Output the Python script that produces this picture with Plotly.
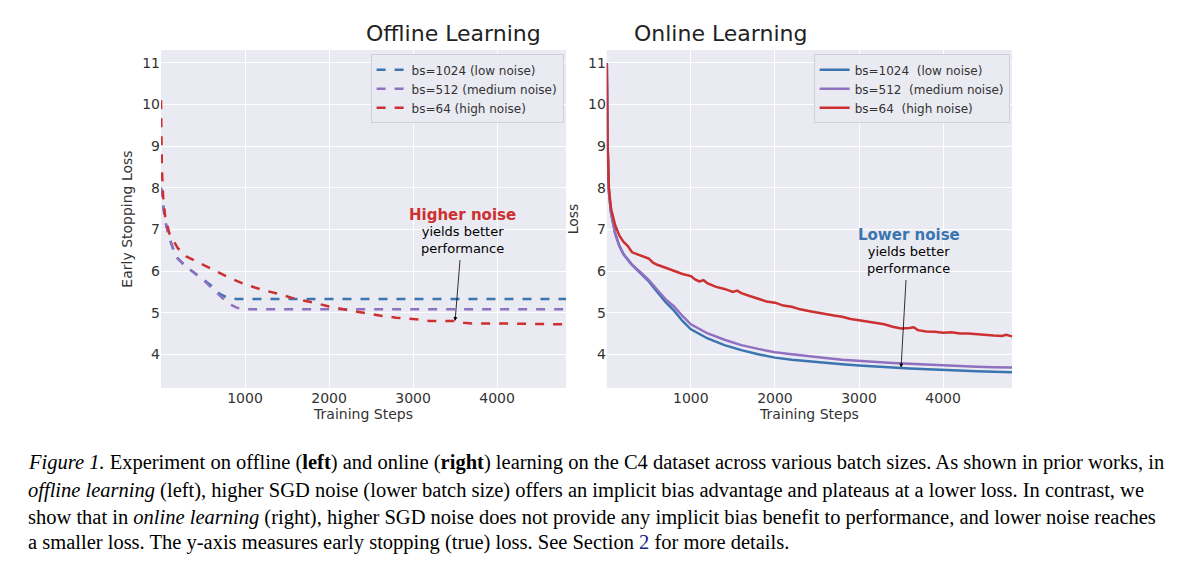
import plotly.graph_objects as go

# offline learning (dashed)
off_x_blue = [0, 25, 50, 100, 150, 200, 300, 400, 500, 600, 700, 800, 900, 1000, 2000, 3000, 4000, 4820]
off_blue = [8.0, 7.6, 7.2, 6.8, 6.5, 6.3, 6.1, 5.95, 5.8, 5.65, 5.45, 5.35, 5.33, 5.33, 5.33, 5.33, 5.33, 5.33]
off_x_purple = [0, 25, 50, 100, 150, 200, 300, 400, 500, 600, 700, 800, 900, 1000, 2000, 3000, 4000, 4820]
off_purple = [8.0, 7.6, 7.2, 6.8, 6.5, 6.3, 6.1, 5.95, 5.8, 5.6, 5.4, 5.22, 5.12, 5.08, 5.08, 5.08, 5.08, 5.08]
off_x_red = [0, 10, 25, 50, 100, 200, 300, 400, 600, 800, 1000, 1200, 1400, 1600, 1800, 2000, 2200, 2400,
             2600, 2800, 3000, 3200, 3500, 3600, 3700, 4000, 4400, 4820]
off_red = [10.1, 8.5, 7.8, 7.3, 6.9, 6.55, 6.35, 6.25, 6.05, 5.85, 5.68, 5.55, 5.45, 5.33, 5.25, 5.15, 5.07, 5.0,
           4.93, 4.88, 4.85, 4.8, 4.8, 4.76, 4.74, 4.74, 4.73, 4.72]

# online learning (solid)
on_x = [0, 10, 25, 50, 100, 150, 200, 300, 400, 500, 600, 700, 800, 900, 1000, 1100, 1200, 1400, 1600, 1800,
        2000, 2200, 2400, 2600, 2800, 3000, 3200, 3400, 3600, 3800, 4000, 4200, 4400, 4600, 4820]
on_blue = [11.0, 9.0, 7.9, 7.4, 6.9, 6.6, 6.4, 6.15, 5.95, 5.75, 5.5, 5.25, 5.05, 4.8, 4.6, 4.48, 4.38, 4.22,
           4.1, 4.0, 3.92, 3.87, 3.83, 3.79, 3.76, 3.73, 3.70, 3.68, 3.66, 3.64, 3.62, 3.6, 3.59, 3.58, 3.57]
on_purple = [11.0, 9.0, 7.9, 7.4, 6.9, 6.6, 6.4, 6.15, 5.97, 5.78, 5.55, 5.32, 5.15, 4.92, 4.72, 4.6, 4.5, 4.35,
             4.22, 4.13, 4.05, 4.0, 3.95, 3.91, 3.87, 3.84, 3.81, 3.79, 3.77, 3.75, 3.73, 3.72, 3.7, 3.69, 3.68]
on_x_red = [0, 10, 25, 50, 100, 150, 200, 250, 300, 400, 500, 550, 600, 700, 800, 900, 1000, 1050, 1100, 1150,
            1200, 1300, 1400, 1500, 1550, 1600, 1700, 1800, 1900, 2000, 2100, 2200, 2300, 2400, 2500, 2600,
            2700, 2800, 2900, 3000, 3100, 3200, 3300, 3400, 3500, 3600, 3650, 3700, 3800, 3900, 4000, 4100,
            4200, 4300, 4400, 4500, 4600, 4700, 4750, 4820]
on_red = [11.0, 9.0, 8.0, 7.5, 7.1, 6.85, 6.7, 6.6, 6.45, 6.38, 6.3, 6.2, 6.15, 6.08, 6.0, 5.93, 5.88, 5.8,
          5.75, 5.78, 5.7, 5.62, 5.57, 5.5, 5.53, 5.47, 5.4, 5.33, 5.27, 5.24, 5.17, 5.14, 5.08, 5.04, 5.0,
          4.97, 4.93, 4.9, 4.85, 4.82, 4.79, 4.76, 4.72, 4.66, 4.62, 4.63, 4.65, 4.58, 4.55, 4.54, 4.52, 4.53,
          4.5, 4.5, 4.48, 4.46, 4.45, 4.44, 4.47, 4.43]

names = ["bs=1024 (low noise)", "bs=512 (medium noise)", "bs=64 (high noise)"]
names_on = ["bs=1024  (low noise)", "bs=512  (medium noise)", "bs=64  (high noise)"]
BLUE, PURPLE, RED = "#3a75b0", "#9070c0", "#cc3030"

fig = go.Figure()
for x, y, n, c in [(off_x_blue, off_blue, names[0], BLUE), (off_x_purple, off_purple, names[1], PURPLE),
                   (off_x_red, off_red, names[2], RED)]:
    fig.add_trace(go.Scatter(x=x, y=y, name=n, mode="lines", line=dict(color=c, width=2.5, dash="dash"),
                             xaxis="x", yaxis="y", legend="legend"))
for x, y, n, c in [(on_x, on_blue, names_on[0], BLUE), (on_x, on_purple, names_on[1], PURPLE),
                   (on_x_red, on_red, names_on[2], RED)]:
    fig.add_trace(go.Scatter(x=x, y=y, name=n, mode="lines", line=dict(color=c, width=2.5),
                             xaxis="x2", yaxis="y2", legend="legend2"))

ax = dict(range=[0, 4820], tickvals=[1000, 2000, 3000, 4000], gridcolor="white", showline=False,
          zeroline=False, tickfont=dict(size=14, color="#333"), ticks="", automargin=False,
          title=dict(text="Training Steps", font=dict(size=14, color="#333"), standoff=0))
ay = dict(range=[3.19, 11.31], tickvals=list(range(4, 12)), gridcolor="white", zeroline=False,
          tickfont=dict(size=14, color="#333"), ticks="", automargin=False)
yd = [0.3274, 0.9257]
leg = dict(bgcolor="#eaeaf2", bordercolor="#d0d0d8", borderwidth=1, font=dict(size=12, color="#333"),
           xanchor="right", yanchor="top", y=0.918, tracegroupgap=0)

cap = [
    "<i>Figure 1.</i> Experiment on offline (<b>left</b>) and online (<b>right</b>) learning on the C4 dataset across various batch sizes. As shown in prior works, in",
    "<i>offline learning</i> (left), higher SGD noise (lower batch size) offers an implicit bias advantage and plateaus at a lower loss. In contrast, we",
    "show that in <i>online learning</i> (right), higher SGD noise does not provide any implicit bias benefit to performance, and lower noise reaches",
    "a smaller loss. The y-axis measures early stopping (true) loss. See Section <span style='color:#1a237e'>2</span> for more details.",
]
cap_y = [0.1947, 0.1469, 0.0991, 0.0531]
annots = [dict(text=t, x=0.015, y=yy, xref="paper", yref="paper", xanchor="left", yanchor="middle",
               showarrow=False, font=dict(family="Liberation Serif", size=20.5, color="black"))
          for t, yy in zip(cap, cap_y)]
annots += [
    dict(text="<b>Higher noise</b>", x=3590, y=7.35, xref="x", yref="y", showarrow=False,
         font=dict(size=15, color=RED)),
    dict(text="yields better<br>performance", x=3590, y=6.75, xref="x", yref="y", showarrow=False,
         font=dict(size=13, color="black")),
    dict(text="", x=3500, y=4.8, ax=3560, ay=6.3, xref="x", yref="y", axref="x", ayref="y",
         showarrow=True, arrowhead=2, arrowsize=1, arrowwidth=0.8, arrowcolor="black"),
    dict(text="<b>Lower noise</b>", x=3590, y=6.86, xref="x2", yref="y2", showarrow=False,
         font=dict(size=15, color=BLUE)),
    dict(text="yields better<br>performance", x=3590, y=6.26, xref="x2", yref="y2", showarrow=False,
         font=dict(size=13, color="black")),
    dict(text="", x=3500, y=3.68, ax=3560, ay=5.82, xref="x2", yref="y2", axref="x2", ayref="y2",
         showarrow=True, arrowhead=2, arrowsize=1, arrowwidth=0.8, arrowcolor="black"),
    dict(text="Offline Learning", x=(0.1275 + 0.465) / 2, y=0.93, xref="paper", yref="paper",
         yanchor="bottom", showarrow=False, font=dict(size=22, color="#222")),
    dict(text="Online Learning", x=(0.499 + 0.8367) / 2, y=0.93, xref="paper", yref="paper",
         yanchor="bottom", showarrow=False, font=dict(size=22, color="#222")),
]

fig.update_layout(
    width=1200, height=565, margin=dict(l=0, r=0, t=0, b=0, autoexpand=False),
    paper_bgcolor="white", plot_bgcolor="#eaeaf2",
    font=dict(family="DejaVu Sans"),
    xaxis=dict(ax, domain=[0.1275, 0.465], anchor="y"),
    yaxis=dict(ay, domain=yd, anchor="x",
               title=dict(text="Early Stopping Loss", font=dict(size=14, color="#333"), standoff=6)),
    xaxis2=dict(ax, domain=[0.499, 0.8367], anchor="y2"),
    yaxis2=dict(ay, domain=yd, anchor="x2",
                title=dict(text="Loss", font=dict(size=14, color="#333"), standoff=6)),
    legend=dict(leg, x=0.463),
    legend2=dict(leg, x=0.8347),
    annotations=annots,
)
fig.write_html("out.html")
